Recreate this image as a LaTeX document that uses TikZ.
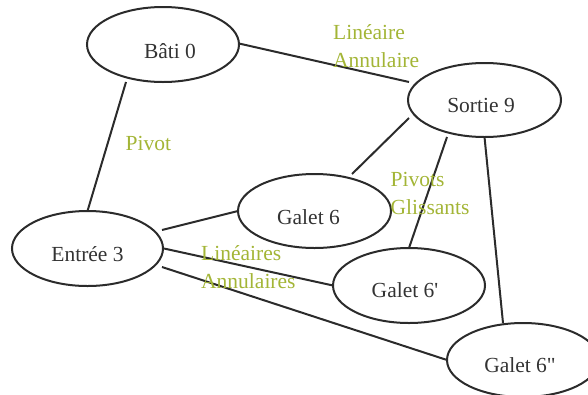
\documentclass[tikz,border=0pt]{standalone}
\usepackage{fontspec}
\setmainfont{Liberation Serif}[Ligatures=TeXOff]
\usetikzlibrary{shapes.geometric,calc}
\definecolor{ink}{HTML}{333333}
\definecolor{edgecol}{HTML}{2B2B2B}
\definecolor{olive}{RGB}{163,181,54}
\begin{document}
\begin{tikzpicture}[x=1pt,y=-1pt,
  ell/.style={ellipse,draw=edgecol,line width=2pt,inner sep=0pt,outer sep=0pt},
  txt/.style={anchor=base,text=ink,font=\fontsize{21.5}{28}\selectfont,inner sep=0pt},
  rel/.style={anchor=base west,text=olive,font=\fontsize{21.5}{28}\selectfont,inner sep=0pt},
  conn/.style={draw=edgecol,line width=2pt}]
\useasboundingbox (0,0) rectangle (588,394);
\clip (0,0) rectangle (588,394);
% ellipses
\node[ell,minimum width=152pt,minimum height=75pt] (bati) at (163,44.5) {};
\node[ell,minimum width=153pt,minimum height=74pt] (sortie) at (484.5,100) {};
\node[ell,minimum width=153pt,minimum height=74pt] (g6) at (314.5,211) {};
\node[ell,minimum width=151pt,minimum height=75pt] (entree) at (87.5,248.5) {};
\node[ell,minimum width=152pt,minimum height=75pt] (g6p) at (409,285.5) {};
\node[ell,minimum width=152pt,minimum height=74pt] (g6pp) at (523,360) {};
% texts
\node[txt] (tbati) at ($(bati)+(7,13.5)$) {Bâti 0};
\node[txt] (tsortie) at ($(sortie)+(-3.5,12)$) {Sortie 9};
\node[txt] (tg6) at ($(g6)+(-6,13)$) {Galet 6};
\node[txt] (tentree) at ($(entree)+(0,12.5)$) {Entrée 3};
\node[txt] (tg6p) at ($(g6p)+(-4,11.5)$) {Galet 6'};
\node[txt] (tg6pp) at ($(g6pp)+(-3,12)$) {Galet 6"};
% connectors
\draw[conn] ($(bati.east)+(0,-1)$) -- ($(sortie.west)+(1,-18)$);
\draw[conn] ($(bati.south)+(-37,0)$) -- (entree.north);
\draw[conn] ($(sortie.west)+(1,18)$) -- ($(g6.north)+(37.5,0)$);
\draw[conn] ($(sortie.south)+(-37.5,0)$) -- (g6p.north);
\draw[conn] (sortie.south) -- ($(g6pp.north)+(-20,0)$);
\draw[conn] ($(entree.east)+(-1,-18.5)$) -- (g6.west);
\draw[conn] ($(entree.east)+(1,0)$) -- (g6p.west);
\draw[conn] ($(entree.east)+(-1,18.5)$) -- (g6pp.west);
% relation labels
\node[rel] (lin) at (333,39) {\begin{tabular}[t]{@{}l@{}}Linéaire\\Annulaire\end{tabular}};
\node[rel] (piv) at (125.5,150) {Pivot};
\node[rel] (pgl) at (390.5,186.5) {\begin{tabular}[t]{@{}l@{}}Pivots\\Glissants\end{tabular}};
\node[rel] (lins) at (201,260) {\begin{tabular}[t]{@{}l@{}}Linéaires\\Annulaires\end{tabular}};
\end{tikzpicture}
\end{document}
